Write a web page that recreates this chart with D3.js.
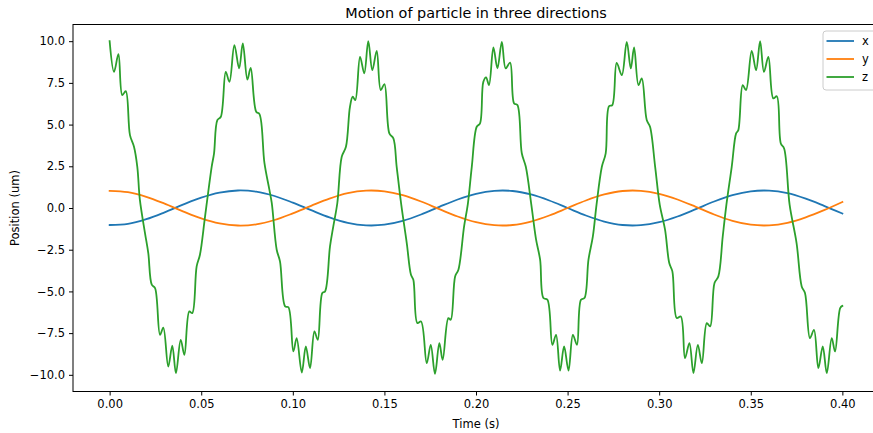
<!DOCTYPE html>
<html>
<head>
<meta charset="utf-8">
<script src="https://cdn.jsdelivr.net/npm/d3@7"></script>
<style>
  html, body { margin: 0; padding: 0; background: #fff; }
  svg { display: block; overflow: hidden; }
</style>
</head>
<body>
<div id="chart"></div>
<script>
// ------------------------------------------------------------
// Data
// ------------------------------------------------------------
const title = "Motion of particle in three directions";
const xLabel = "Time (s)";
const yLabel = "Position (um)";
const seriesNames = ["x", "y", "z"];
const xTicks = [0, 0.05, 0.1, 0.15, 0.2, 0.25, 0.3, 0.35, 0.4];
const yTicks = [-10, -7.5, -5, -2.5, 0, 2.5, 5, 7.5, 10];

// x and y: slow components, sampled every 0.01 s
const timeXY = [0, 0.01, 0.02, 0.03, 0.04, 0.05, 0.06, 0.07, 0.08, 0.09,
  0.10, 0.11, 0.12, 0.13, 0.14, 0.15, 0.16, 0.17, 0.18, 0.19,
  0.20, 0.21, 0.22, 0.23, 0.24, 0.25, 0.26, 0.27, 0.28, 0.29,
  0.30, 0.31, 0.32, 0.33, 0.34, 0.35, 0.36, 0.37, 0.38, 0.39, 0.40];
const xValues = [-1.02, -0.95, -0.67, -0.26, 0.20, 0.62, 0.92, 1.05, 0.98, 0.72,
  0.32, -0.13, -0.56, -0.89, -1.04, -1.00, -0.77, -0.39, 0.07, 0.51,
  0.85, 1.03, 1.02, 0.81, 0.45, 0.00, -0.45, -0.81, -1.02, -1.03,
  -0.85, -0.51, -0.07, 0.39, 0.77, 1.00, 1.04, 0.89, 0.56, 0.13, -0.33];
const yValues = [1.03, 0.95, 0.67, 0.26, -0.20, -0.62, -0.92, -1.05, -0.98, -0.72,
  -0.32, 0.13, 0.56, 0.89, 1.04, 1.00, 0.77, 0.39, -0.07, -0.51,
  -0.85, -1.03, -1.02, -0.81, -0.45, 0.00, 0.45, 0.81, 1.02, 1.03,
  0.85, 0.51, 0.07, -0.39, -0.77, -1.00, -1.04, -0.89, -0.56, -0.13, 0.36];

const timeZ = [0.0000, 0.0024, 0.0048, 0.0069, 0.0088, 0.0111, 0.0133, 0.0151, 0.0165, 0.0193,
  0.0211, 0.0230, 0.0248, 0.0275, 0.0293, 0.0320, 0.0342, 0.0362, 0.0388, 0.0408,
  0.0435, 0.0451, 0.0475, 0.0493, 0.0521, 0.0557, 0.0570, 0.0588, 0.0607, 0.0634,
  0.0654, 0.0681, 0.0707, 0.0727, 0.0752, 0.0770, 0.0800, 0.0818, 0.0845, 0.0872,
  0.0885, 0.0912, 0.0930, 0.0958, 0.0976, 0.1003, 0.1021, 0.1049, 0.1071, 0.1094,
  0.1118, 0.1136, 0.1161, 0.1176, 0.1203, 0.1221, 0.1243, 0.1267, 0.1290, 0.1312,
  0.1327, 0.1341, 0.1367, 0.1390, 0.1412, 0.1434, 0.1458, 0.1480, 0.1500, 0.1527,
  0.1549, 0.1567, 0.1592, 0.1622, 0.1645, 0.1658, 0.1680, 0.1700, 0.1731, 0.1753,
  0.1776, 0.1800, 0.1818, 0.1849, 0.1862, 0.1886, 0.1904, 0.1935, 0.1955, 0.1977,
  0.2004, 0.2022, 0.2040, 0.2055, 0.2071, 0.2095, 0.2117, 0.2141, 0.2162, 0.2186,
  0.2208, 0.2226, 0.2250, 0.2272, 0.2302, 0.2328, 0.2350, 0.2368, 0.2390, 0.2417,
  0.2437, 0.2459, 0.2481, 0.2505, 0.2529, 0.2551, 0.2573, 0.2592, 0.2614, 0.2638,
  0.2658, 0.2687, 0.2708, 0.2726, 0.2744, 0.2768, 0.2796, 0.2823, 0.2845, 0.2863,
  0.2887, 0.2905, 0.2932, 0.2950, 0.2978, 0.3003, 0.3032, 0.3055, 0.3072, 0.3096,
  0.3118, 0.3141, 0.3165, 0.3187, 0.3211, 0.3233, 0.3260, 0.3278, 0.3302, 0.3323,
  0.3347, 0.3367, 0.3396, 0.3420, 0.3432, 0.3456, 0.3474, 0.3505, 0.3529, 0.3551,
  0.3572, 0.3596, 0.3623, 0.3642, 0.3664, 0.3682, 0.3712, 0.3750, 0.3778, 0.3796,
  0.3823, 0.3845, 0.3869, 0.3893, 0.3915, 0.3942, 0.3960, 0.3988, 0.4000];
const zValues = [10.0, 8.16, 9.22, 6.77, 7.0, 4.37, 3.67, 2.47, 0.5, -1.5,
  -2.7, -4.6, -4.8, -7.6, -7.17, -9.5, -8.25, -9.9, -7.9, -8.8,
  -6.2, -6.3, -3.5, -2.8, -0.5, 2.47, 3.28, 5.27, 5.47, 8.16,
  7.56, 9.76, 8.37, 9.86, 7.7, 8.4, 5.77, 5.63, 2.7, 1.1,
  0.3, -2.5, -3.2, -5.9, -5.95, -8.6, -7.8, -9.86, -8.3, -9.6,
  -7.4, -7.9, -5.1, -5.0, -2.3, -1.1, 0.3, 3.07, 3.67, 6.07,
  6.67, 6.47, 9.06, 8.07, 10.0, 8.26, 9.42, 7.07, 7.43, 4.47,
  4.17, 2.47, 0.2, -2.1, -4.0, -4.3, -6.9, -6.8, -9.3, -8.2,
  -9.94, -8.1, -9.1, -6.6, -6.7, -4.1, -3.7, -1.1, 0.2, 2.47,
  4.87, 5.07, 7.56, 7.83, 7.37, 9.62, 8.37, 9.96, 8.37, 8.72,
  6.27, 6.17, 3.28, 2.47, 0.2, -1.9, -3.1, -5.4, -5.5, -8.2,
  -7.6, -9.74, -8.3, -9.74, -7.6, -8.2, -5.5, -5.4, -3.1, -1.7,
  0.2, 2.47, 3.28, 6.1, 6.17, 8.7, 7.96, 9.96, 8.37, 9.62,
  7.37, 7.77, 5.27, 4.87, 2.47, 0.2, -1.3, -3.3, -3.8, -6.6,
  -6.5, -9.0, -8.1, -9.9, -8.2, -9.3, -6.9, -7.1, -4.5, -4.1,
  -1.7, 0.2, 2.47, 4.47, 4.67, 7.37, 7.07, 9.42, 8.26, 10.0,
  8.16, 9.06, 6.57, 6.7, 3.87, 3.57, 0.2, -2.1, -4.7, -5.1,
  -7.8, -7.3, -9.6, -8.3, -9.9, -7.8, -8.6, -6.0, -5.87];

const COLORS = ["#1f77b4", "#ff7f0e", "#2ca02c"];

// ------------------------------------------------------------
// Layout (axes run past the right edge, as in the cropped figure)
// ------------------------------------------------------------
const W = 873, H = 433;
const mLeft = 73, mTop = 24.5, plotW = 806, plotH = 367;
const FONT = "'DejaVu Sans', sans-serif";
const TICK_PX = "11.5px";

const svg = d3.select("#chart").append("svg")
  .attr("width", W).attr("height", H);

const x = d3.scaleLinear().domain([-0.02, 0.42]).range([mLeft, mLeft + plotW]);
const y = d3.scaleLinear().domain([-11, 11]).range([mTop + plotH, mTop]);

const fmtMinus = (s) => s.replace("-", "\u2212");

// --- axes ---
const xAxis = svg.append("g")
  .attr("transform", `translate(0,${mTop + plotH})`)
  .call(d3.axisBottom(x).tickValues(xTicks).tickSize(4).tickPadding(4)
    .tickFormat((d) => d3.format(".2f")(d)));

const yAxis = svg.append("g")
  .attr("transform", `translate(${mLeft},0)`)
  .call(d3.axisLeft(y).tickValues(yTicks).tickSize(4).tickPadding(4)
    .tickFormat((d) => fmtMinus(d3.format(".1f")(d))));

[xAxis, yAxis].forEach((g) => {
  g.select(".domain").remove();
  g.selectAll(".tick line").attr("stroke", "#000").attr("stroke-width", 1);
  g.selectAll(".tick text")
    .attr("font-family", FONT).attr("font-size", TICK_PX).attr("fill", "#000");
});

// --- lines ---
const series = [
  { name: seriesNames[0], pts: timeXY.map((t, i) => [t, xValues[i]]) },
  { name: seriesNames[1], pts: timeXY.map((t, i) => [t, yValues[i]]) },
  { name: seriesNames[2], pts: timeZ.map((t, i) => [t, zValues[i]]) },
];

const line = d3.line()
  .x((d) => x(d[0]))
  .y((d) => y(d[1]))
  .curve(d3.curveCatmullRom.alpha(0.5));

svg.append("g").selectAll("path")
  .data(series)
  .join("path")
  .attr("d", (d) => line(d.pts))
  .attr("fill", "none")
  .attr("stroke", (d, i) => COLORS[i])
  .attr("stroke-width", 1.8)
  .attr("stroke-linejoin", "round")
  .attr("stroke-linecap", "square");

// --- frame ---
svg.append("rect")
  .attr("x", mLeft).attr("y", mTop)
  .attr("width", plotW).attr("height", plotH)
  .attr("fill", "none")
  .attr("stroke", "#000")
  .attr("stroke-width", 1);

// --- title and axis labels ---
svg.append("text")
  .attr("x", mLeft + plotW / 2).attr("y", mTop - 7)
  .attr("text-anchor", "middle")
  .attr("font-family", FONT).attr("font-size", "14.4px")
  .text(title);

svg.append("text")
  .attr("x", mLeft + plotW / 2).attr("y", mTop + plotH + 36)
  .attr("text-anchor", "middle")
  .attr("font-family", FONT).attr("font-size", TICK_PX)
  .text(xLabel);

svg.append("text")
  .attr("transform", `translate(19,${mTop + plotH / 2}) rotate(-90)`)
  .attr("text-anchor", "middle")
  .attr("font-family", FONT).attr("font-size", TICK_PX)
  .text(yLabel);

// --- legend ---
const legend = svg.append("g").attr("transform", "translate(823,31)");
legend.append("rect")
  .attr("width", 62).attr("height", 59).attr("rx", 3)
  .attr("fill", "#fff").attr("fill-opacity", 0.8)
  .attr("stroke", "#cccccc").attr("stroke-width", 1);

const item = legend.selectAll("g.item")
  .data(seriesNames)
  .join("g")
  .attr("class", "item")
  .attr("transform", (d, i) => `translate(0,${10 + i * 18})`);

item.append("line")
  .attr("x1", 3.5).attr("x2", 31)
  .attr("stroke", (d, i) => COLORS[i])
  .attr("stroke-width", 1.8);

item.append("text")
  .attr("x", 39).attr("dy", "0.35em")
  .attr("font-family", FONT).attr("font-size", TICK_PX)
  .text((d) => d);
</script>
</body>
</html>
